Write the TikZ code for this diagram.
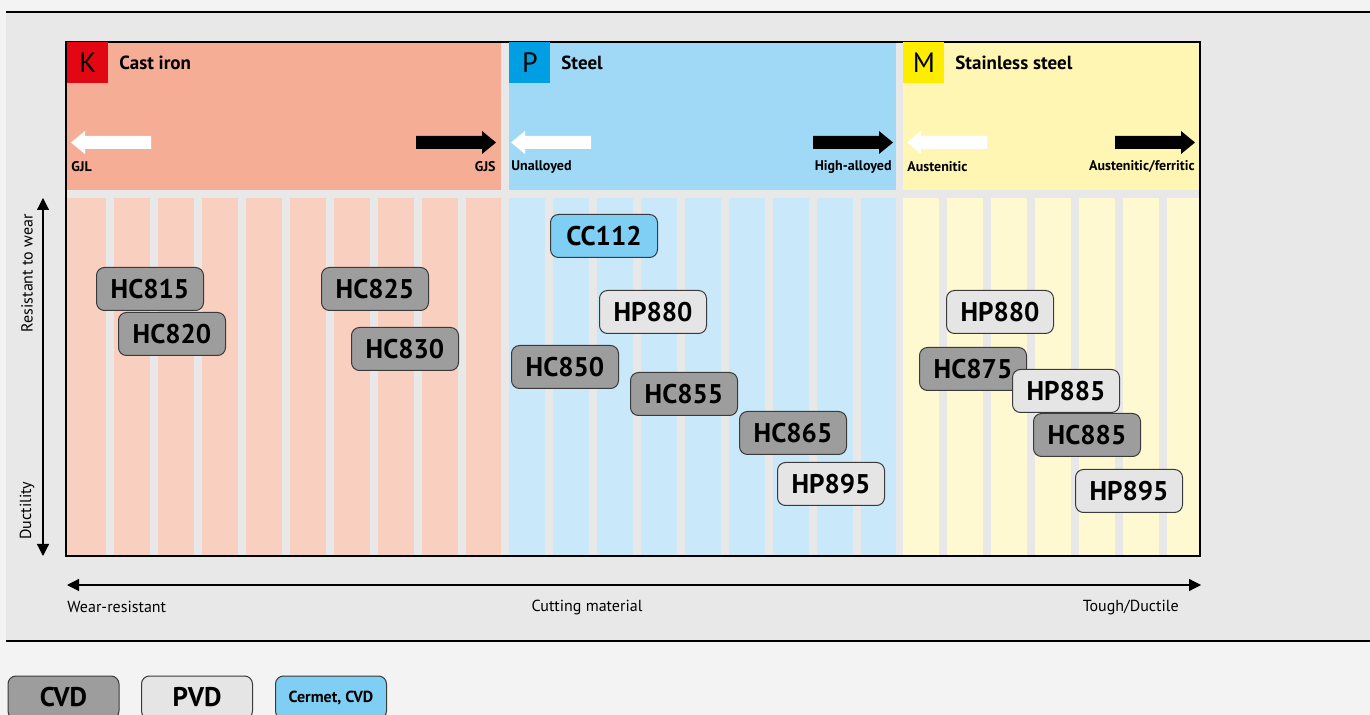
\documentclass[tikz,border=0pt]{standalone}
\usepackage{fontspec}
\setmainfont{PT Sans}
\usepackage{xcolor}
\usepackage{tikz}
\usetikzlibrary{calc,positioning,arrows.meta}
\definecolor{pagebg}{HTML}{F3F3F3}
\definecolor{panelbg}{HTML}{E8E8E8}
\definecolor{castiron}{HTML}{F5AE95}
\definecolor{castironlight}{HTML}{F9D0C0}
\definecolor{steel}{HTML}{A0D9F6}
\definecolor{steellight}{HTML}{C9E8F9}
\definecolor{stainless}{HTML}{FFF6B4}
\definecolor{stainlesslight}{HTML}{FFF9D2}
\definecolor{tagK}{HTML}{E30613}
\definecolor{tagP}{HTML}{009FE3}
\definecolor{tagM}{HTML}{FFED00}
\definecolor{cvdgray}{HTML}{9D9D9D}
\definecolor{pvdgray}{HTML}{E5E5E5}
\definecolor{cermetblue}{HTML}{7FCEF3}
\definecolor{edgegray}{HTML}{3A3A3A}

\begin{document}
\begin{tikzpicture}[
  x=0.5pt, y=-0.5pt,
  badge/.style={
    rectangle, rounded corners=4pt, draw=edgegray, line width=0.5pt,
    minimum width=53.5pt, minimum height=21.5pt, inner sep=0pt,
    font=\fontsize{13.5}{14}\selectfont\bfseries,
  },
  cvd/.style={badge, fill=cvdgray},
  pvd/.style={badge, fill=pvdgray},
  cermet/.style={badge, fill=cermetblue},
  tagbox/.style={
    rectangle, minimum width=20.5pt, minimum height=20.5pt, inner sep=0pt,
    anchor=north west, font=\fontsize{14}{14}\selectfont,
  },
  grouplabel/.style={anchor=west, inner sep=1pt, font=\fontsize{9.5}{11}\selectfont\bfseries},
  arrowlabel/.style={inner sep=1pt, font=\fontsize{7}{8}\selectfont\bfseries},
  axislabel/.style={inner sep=1pt, font=\fontsize{8}{9}\selectfont},
  axisline/.style={line width=0.6pt, {Triangle[length=6pt,width=6pt]}-{Triangle[length=6pt,width=6pt]}},
]
\path[use as bounding box] (0,0) rectangle (1370,715);
\clip (0,0) rectangle (1370,715);

% Background and panel
\fill[pagebg] (0,0) rectangle (1370,715);
\fill[panelbg] (6,12) rectangle (1370,641);
\draw[line width=1.2pt] (6,12) -- (1370,12);
\draw[line width=1.2pt] (6,641) -- (1370,641);

% Columns: headers and striped fields
\fill[castiron] (67,42) rectangle (501,190);
\fill[steel] (509,42) rectangle (896,190);
\fill[stainless] (903,42) rectangle (1200,190);
\fill[castironlight] (67,198) rectangle (501,556);
\fill[steellight] (509,198) rectangle (896,556);
\fill[stainlesslight] (903,198) rectangle (1200,556);
\foreach \k in {0,...,8}
  \fill[panelbg] (106+44*\k,198) rectangle ++(8,358);
\foreach \k in {0,...,7}
  \fill[panelbg] (545+44*\k,198) rectangle ++(8,358);
\foreach \k in {0,...,5}
  \fill[panelbg] (939+44*\k,198) rectangle ++(8,358);
\draw[line width=0.6pt] (66,42) rectangle (1200,556);

% Group tags
\node[tagbox, fill=tagK] (tagk) at (67,42) {K};
\node[tagbox, fill=tagP] (tagp) at (509,42) {P};
\node[tagbox, fill=tagM] (tagm) at (903,42) {M};
\node[grouplabel] (castironlbl) at (117,63) {Cast iron};
\node[grouplabel] (steellbl) at (559,63) {Steel};
\node[grouplabel] (stainlesslbl) at (953,63) {Stainless steel};

% Block arrows in headers
\foreach \wl/\br in {71/496, 511/893, 907/1195} {
  \fill[white] (\wl,142.5) -- ++(14,-11.5) -- ++(0,5) -- ++(66,0) -- ++(0,13)
    -- ++(-66,0) -- ++(0,5) -- cycle;
  \fill[black] (\br,142.5) -- ++(-14,-11.5) -- ++(0,5) -- ++(-66,0) -- ++(0,13)
    -- ++(66,0) -- ++(0,5) -- cycle;
}
\node[arrowlabel, anchor=west] (gjl) at (69,167) {GJL};
\node[arrowlabel, anchor=east] (gjs) at (498,167) {GJS};
\node[arrowlabel, anchor=west] (unalloyed) at (509,167) {Unalloyed};
\node[arrowlabel, anchor=east] (highalloyed) at (894,167) {High-alloyed};
\node[arrowlabel, anchor=west] (austenitic) at (905,167) {Austenitic};
\node[arrowlabel, anchor=east] (austferritic) at (1197,167) {Austenitic/ferritic};

% Grades - cast iron
\node[cvd] (hc815) at (150,289) {HC815};
\node[cvd] (hc820) at (172,334) {HC820};
\node[cvd] (hc825) at (375,289) {HC825};
\node[cvd] (hc830) at (405,349) {HC830};

% Grades - steel
\node[cermet] (cc112) at (604,236) {CC112};
\node[pvd] (hp880p) at (653,312) {HP880};
\node[cvd] (hc850) at (565,367) {HC850};
\node[cvd] (hc855) at (684,394) {HC855};
\node[cvd] (hc865) at (793,433) {HC865};
\node[pvd] (hp895p) at (831,484) {HP895};

% Grades - stainless steel
\node[pvd] (hp880m) at (1000,312) {HP880};
\node[cvd] (hc875) at (973,369) {HC875};
\node[pvd] (hp885) at (1066,391) {HP885};
\node[cvd] (hc885) at (1087,435) {HC885};
\node[pvd] (hp895m) at (1129,491) {HP895};

% Axes
\coordinate (ytop) at (43,198);
\coordinate (ybot) at (43,556);
\draw[axisline] (ytop) -- (ybot);
\node[axislabel, rotate=90, anchor=east] (wearlbl) at (27,212) {Resistant to wear};
\node[axislabel, rotate=90, anchor=west] (ductlbl) at (27,542) {Ductility};
\coordinate (xleft) at (67,585);
\coordinate (xright) at (1201,585);
\draw[axisline] (xleft) -- (xright);
\node[axislabel, anchor=west] (wearres) at (65,607) {Wear-resistant};
\node[axislabel] (cutmat) at (587,607) {Cutting material};
\node[axislabel, anchor=east] (tough) at (1181,607) {Tough/Ductile};

% Legend
\node[cvd, minimum width=55.5pt] (legcvd) at (63.5,697.5) {CVD};
\node[pvd, minimum width=55.5pt] (legpvd) at (197,697.5) {PVD};
\node[cermet, minimum width=55.5pt, font=\fontsize{8}{9}\selectfont\bfseries] (legcermet) at (331,697.5) {Cermet, CVD};

\end{tikzpicture}
\end{document}
